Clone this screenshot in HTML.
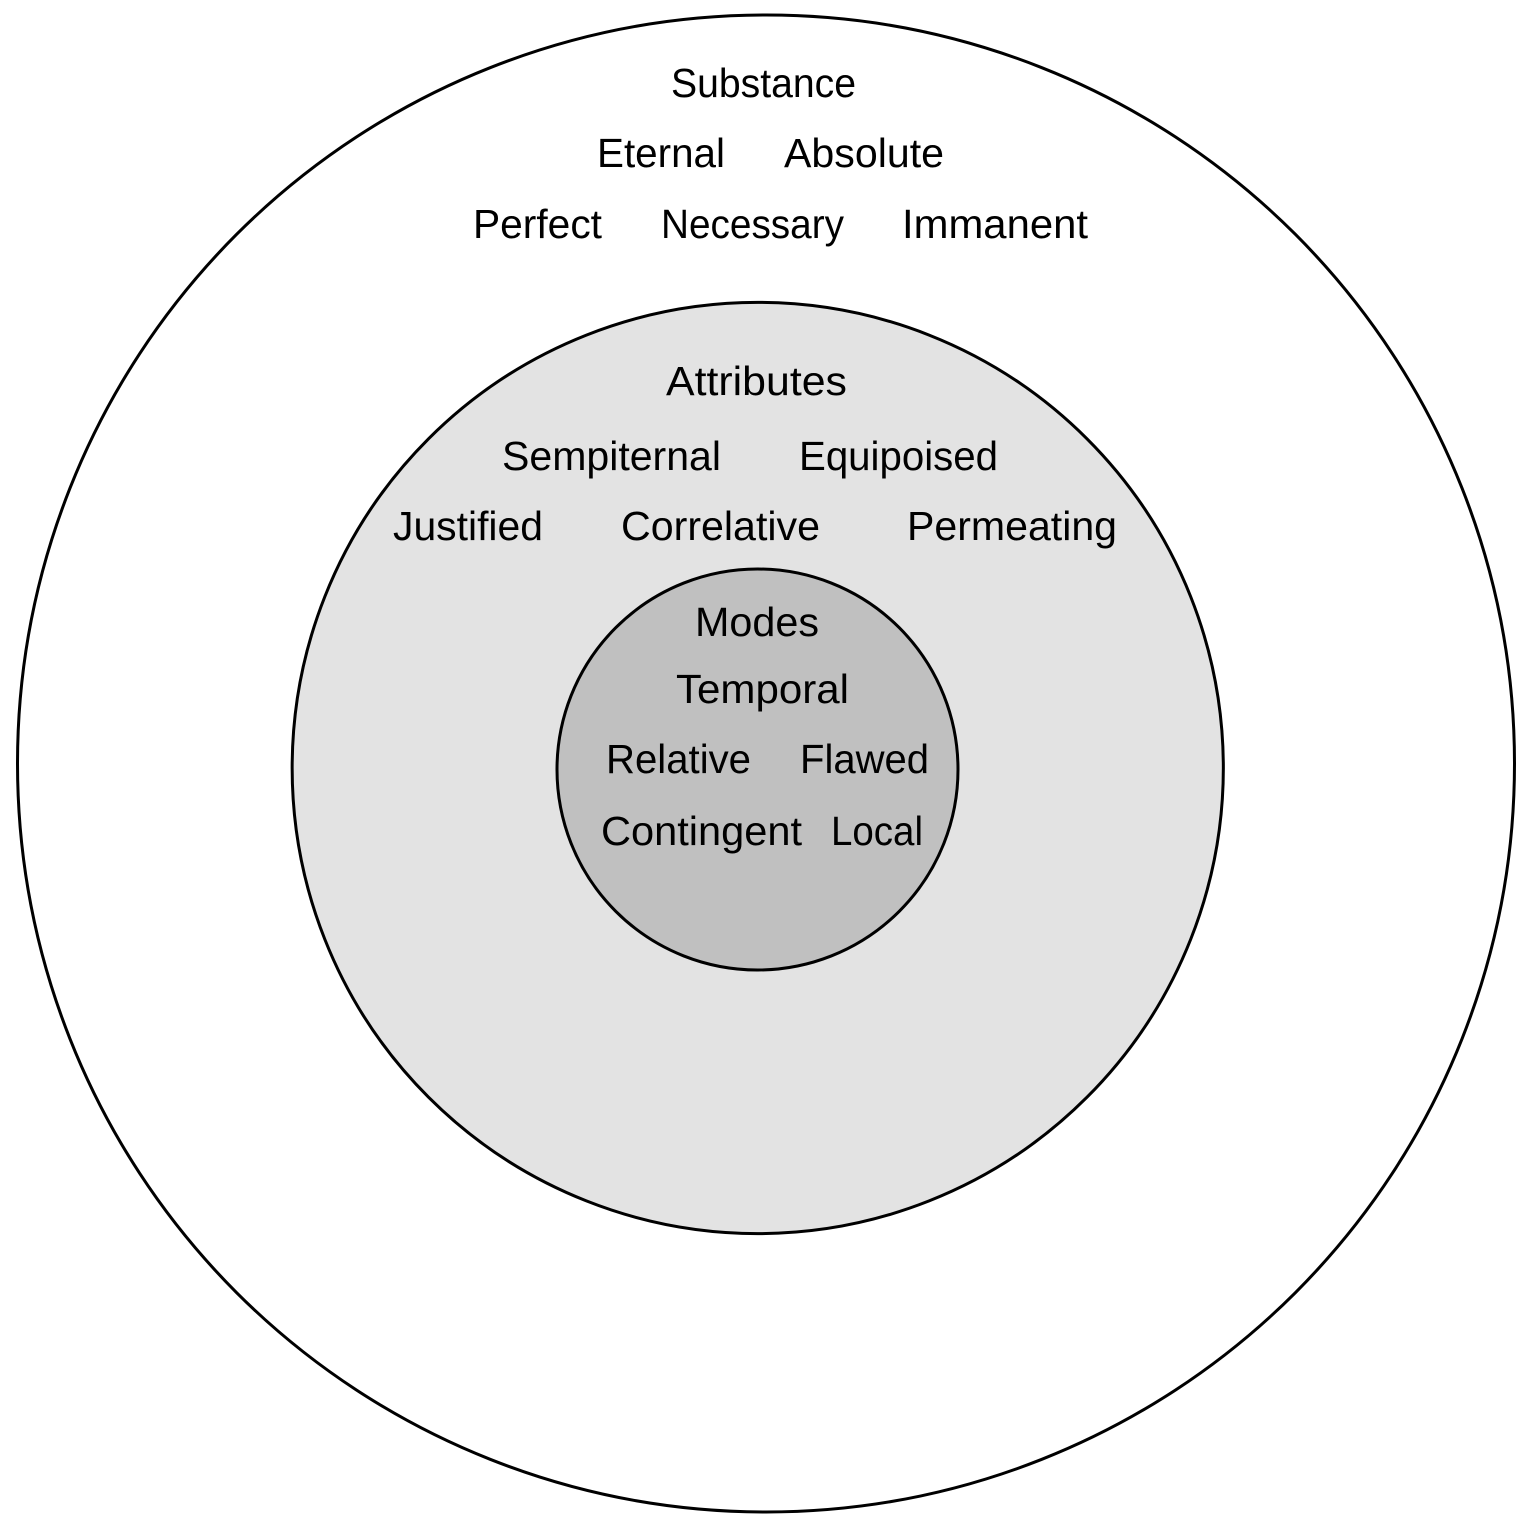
<!DOCTYPE html>
<html>
<head>
<meta charset="utf-8">
<style>
  html, body { margin: 0; padding: 0; background: #ffffff; }
  svg { display: block; }
  text { font-family: "Liberation Sans", "DejaVu Sans", sans-serif; font-size: 41px; fill: #000; }
</style>
</head>
<body>
<svg width="1536" height="1536" viewBox="0 0 1536 1536" xmlns="http://www.w3.org/2000/svg">
  <rect x="0" y="0" width="1536" height="1536" fill="#ffffff"/>
  <circle cx="766" cy="763.5" r="748.5" fill="#ffffff" stroke="#000" stroke-width="3"/>
  <circle cx="757.75" cy="768" r="465.6" fill="#e3e3e3" stroke="#000" stroke-width="3"/>
  <circle cx="757.5" cy="769.5" r="200.5" fill="#c0c0c0" stroke="#000" stroke-width="3"/>

  <!-- Substance -->
  <text x="671" y="97" textLength="185" lengthAdjust="spacingAndGlyphs">Substance</text>
  <text x="597" y="167" textLength="128" lengthAdjust="spacingAndGlyphs">Eternal</text>
  <text x="784" y="167" textLength="160" lengthAdjust="spacingAndGlyphs">Absolute</text>
  <text x="473" y="238" textLength="129" lengthAdjust="spacingAndGlyphs">Perfect</text>
  <text x="661" y="238" textLength="183" lengthAdjust="spacingAndGlyphs">Necessary</text>
  <text x="902" y="238" textLength="186" lengthAdjust="spacingAndGlyphs">Immanent</text>

  <!-- Attributes -->
  <text x="666" y="395" textLength="181" lengthAdjust="spacingAndGlyphs">Attributes</text>
  <text x="502" y="470" textLength="219" lengthAdjust="spacingAndGlyphs">Sempiternal</text>
  <text x="799" y="470" textLength="199" lengthAdjust="spacingAndGlyphs">Equipoised</text>
  <text x="393" y="540" textLength="150" lengthAdjust="spacingAndGlyphs">Justified</text>
  <text x="621" y="540" textLength="199" lengthAdjust="spacingAndGlyphs">Correlative</text>
  <text x="907" y="540" textLength="210" lengthAdjust="spacingAndGlyphs">Permeating</text>

  <!-- Modes -->
  <text x="695" y="636" textLength="124" lengthAdjust="spacingAndGlyphs">Modes</text>
  <text x="676" y="703" textLength="173" lengthAdjust="spacingAndGlyphs">Temporal</text>
  <text x="606" y="773" textLength="145" lengthAdjust="spacingAndGlyphs">Relative</text>
  <text x="800" y="773" textLength="129" lengthAdjust="spacingAndGlyphs">Flawed</text>
  <text x="601" y="845" textLength="201" lengthAdjust="spacingAndGlyphs">Contingent</text>
  <text x="831" y="845" textLength="92" lengthAdjust="spacingAndGlyphs">Local</text>
</svg>
</body>
</html>
